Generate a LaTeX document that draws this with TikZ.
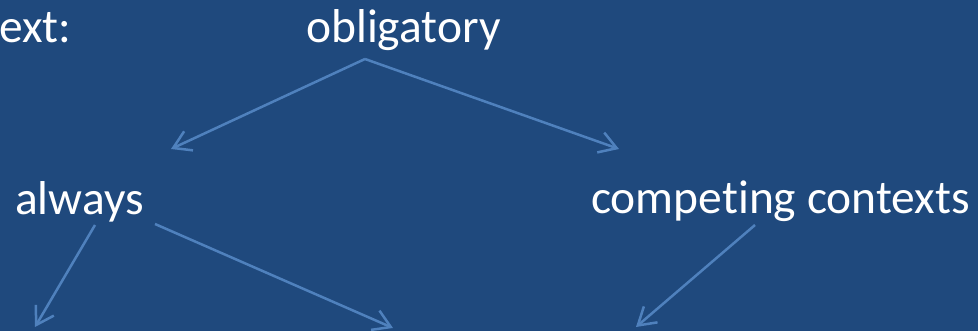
\documentclass[tikz,border=0pt]{standalone}
\usepackage{fontspec}
\setmainfont{Carlito}[Ligatures=NoCommon]
\usetikzlibrary{arrows.meta}
\definecolor{bg}{RGB}{31,73,125}
\definecolor{ln}{RGB}{79,129,189}
\tikzset{
  lbl/.style={text=white, inner sep=0pt, anchor=base west, font=\fontsize{47.5}{57}\selectfont},
  conn/.style={draw=ln, line width=2.5pt, -{Straight Barb[length=17pt,width=21pt,line width=2.5pt]}}
}
\begin{document}
\begin{tikzpicture}[x=1pt,y=-1pt]
\fill[bg] (0,0) rectangle (978,331);
\useasboundingbox (0,0) rectangle (978,331);
\clip (0,0) rectangle (978,331);
\node[lbl] (ctx) at (-1,43) {ext:};
\node[lbl] (obl) at (306,43) {obligatory};
\node[lbl] (alw) at (15,215) {always};
\node[lbl] (cmp) at (591,214) {competing contexts};
\coordinate (oS) at (365,59);
\coordinate (oL) at (171,149);
\coordinate (oR) at (619,149);
\coordinate (aS1) at (95,225);
\coordinate (aE1) at (35,327);
\coordinate (aS2) at (155,224);
\coordinate (aE2) at (393,328);
\coordinate (cS) at (755,225);
\coordinate (cE) at (636,327);
\draw[conn] (oS) -- (oL);
\draw[conn] (oS) -- (oR);
\draw[conn] (aS1) -- (aE1);
\draw[conn] (aS2) -- (aE2);
\draw[conn] (cS) -- (cE);
\end{tikzpicture}
\end{document}
